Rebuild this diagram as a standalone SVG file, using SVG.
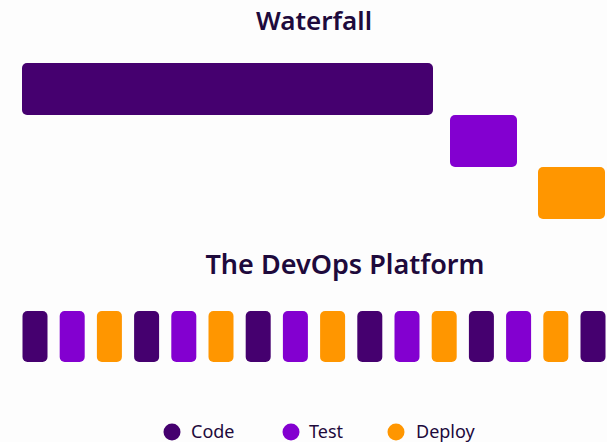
<svg xmlns="http://www.w3.org/2000/svg" width="607" height="442" viewBox="0 0 607 442">
<style>
.title{font-family:"Noto Sans","Open Sans",sans-serif;font-weight:600;font-size:26px;fill:#1e0a3c;text-anchor:middle}
.leg{font-family:"Noto Sans","Open Sans",sans-serif;font-size:18px;fill:#1e0a3c}
.code{fill:#45006f}
.test{fill:#8300d0}
.deploy{fill:#ff9600}
</style>
<rect width="607" height="442" fill="#fdfdfd"/>
<text class="title" x="314" y="30">Waterfall</text>
<g id="waterfall">
<rect id="wf-code" class="code" x="22" y="63" width="411" height="52" rx="5"/>
<rect id="wf-test" class="test" x="450" y="115" width="67" height="52" rx="5"/>
<rect id="wf-deploy" class="deploy" x="538" y="167" width="67" height="52" rx="5"/>
</g>
<text class="title" x="345" y="274" style="font-size:27px">The DevOps Platform</text>
<g id="devops">
<rect class="code" x="22.5" y="311" width="25" height="51" rx="5"/>
<rect class="test" x="59.7" y="311" width="25" height="51" rx="5"/>
<rect class="deploy" x="96.9" y="311" width="25" height="51" rx="5"/>
<rect class="code" x="134.1" y="311" width="25" height="51" rx="5"/>
<rect class="test" x="171.3" y="311" width="25" height="51" rx="5"/>
<rect class="deploy" x="208.5" y="311" width="25" height="51" rx="5"/>
<rect class="code" x="245.7" y="311" width="25" height="51" rx="5"/>
<rect class="test" x="282.9" y="311" width="25" height="51" rx="5"/>
<rect class="deploy" x="320.1" y="311" width="25" height="51" rx="5"/>
<rect class="code" x="357.3" y="311" width="25" height="51" rx="5"/>
<rect class="test" x="394.5" y="311" width="25" height="51" rx="5"/>
<rect class="deploy" x="431.7" y="311" width="25" height="51" rx="5"/>
<rect class="code" x="468.9" y="311" width="25" height="51" rx="5"/>
<rect class="test" x="506.1" y="311" width="25" height="51" rx="5"/>
<rect class="deploy" x="543.3" y="311" width="25" height="51" rx="5"/>
<rect class="code" x="580.5" y="311" width="25" height="51" rx="5"/>
</g>
<g id="legend">
<circle class="code" cx="172" cy="432" r="8.5"/>
<text class="leg" x="191" y="438">Code</text>
<circle class="test" cx="291" cy="432" r="8.5"/>
<text class="leg" x="309" y="438">Test</text>
<circle class="deploy" cx="396" cy="432" r="8.5"/>
<text class="leg" x="416" y="438">Deploy</text>
</g>
</svg>
